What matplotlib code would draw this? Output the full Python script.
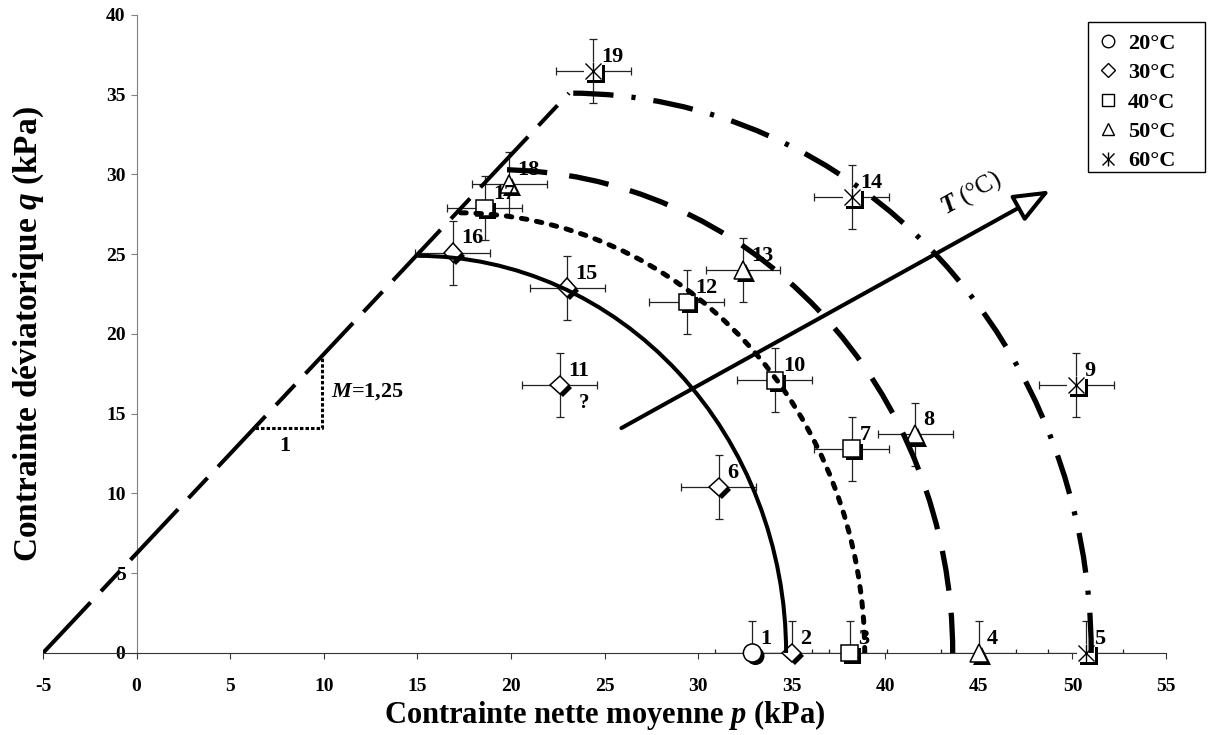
import matplotlib.pyplot as plt
import matplotlib.patheffects as pe
from matplotlib.patches import Arc, FancyArrowPatch, Rectangle
from matplotlib.lines import Line2D

plt.rcParams['font.family'] = 'Liberation Serif'
plt.rcParams['font.weight'] = 'bold'
plt.rcParams['axes.labelweight'] = 'bold'
plt.rcParams['axes.unicode_minus'] = False
plt.rcParams['mathtext.fontset'] = 'custom'
plt.rcParams['mathtext.rm'] = 'Liberation Serif:bold'
plt.rcParams['mathtext.it'] = 'Liberation Serif:italic:bold'
plt.rcParams['mathtext.sf'] = 'Liberation Serif:italic'
plt.rcParams['lines.scale_dashes'] = False

## Essais par temperature : numero, p (kPa), q (kPa)
temps = ['20°C', '30°C', '40°C', '50°C', '60°C']

num_20 = [1]
p_20 = [32.9]
q_20 = [0.0]

num_30 = [2, 6, 11, 15, 16]
p_30 = [35.0, 31.1, 22.6, 23.0, 16.9]
q_30 = [0.0, 10.4, 16.8, 22.9, 25.1]

num_40 = [3, 7, 10, 12, 17]
p_40 = [38.1, 38.2, 34.1, 29.4, 18.6]
q_40 = [0.0, 12.8, 17.1, 22.0, 27.9]

num_50 = [4, 8, 13, 18]
p_50 = [45.0, 41.6, 32.4, 19.9]
q_50 = [0.0, 13.7, 24.0, 29.4]

num_60 = [5, 9, 14, 19]
p_60 = [50.7, 50.2, 38.2, 24.4]
q_60 = [0.0, 16.8, 28.6, 36.5]

err_p = 2.0
err_q = 2.0

## Ligne d'etat critique M = 1,25
csl_p = [-5.0, 23.1]
csl_q = [0.0, 35.1]
slope_p = [6.3, 9.9, 9.9]
slope_q = [14.1, 14.1, 18.6]

## Surfaces de charge (quart d'ellipse) : debut p, sommet q, fin p
curve_p0 = [15.0, 17.1, 19.3, 23.1]
curve_q0 = [24.9, 27.6, 30.3, 35.1]
curve_pend = [34.7, 38.9, 43.6, 51.0]

## Fleche T (°C)
arrow_start = (25.9, 14.1)
arrow_end = (48.8, 29.0)

fig = plt.figure(figsize=(12.08, 7.35), dpi=100)
ax = fig.add_axes([0.0356, 0.1116, 0.9297, 0.868])

shadow = [pe.SimplePatchShadow(offset=(2.2, -2.2), shadow_rgbFace='black', alpha=1.0), pe.Normal()]

groups = [(num_20, p_20, q_20, 'o', 13),
          (num_30, p_30, q_30, 'D', 9.5),
          (num_40, p_40, q_40, 's', 12),
          (num_50, p_50, q_50, '^', 13),
          (num_60, p_60, q_60, 's', 13)]

for i, (nums, ps, qs, mk, ms) in enumerate(groups):
    ax.errorbar(ps, qs, xerr=err_p, yerr=err_q, fmt='none', ecolor='#222222',
                elinewidth=0.9, capsize=3, capthick=0.9, zorder=2)
    if i == 4:
        # asterisque = x + | sur un carre blanc avec ombre
        ax.plot(ps, qs, ls='none', marker=mk, ms=ms, mfc='white', mec='none',
                path_effects=shadow, zorder=3, clip_on=False)
        ax.plot(ps, qs, ls='none', marker='x', ms=11, mec='black', mew=1.0,
                zorder=3.5, clip_on=False)
        ax.plot(ps, qs, ls='none', marker='|', ms=13, mec='black', mew=1.0,
                zorder=3.5, clip_on=False)
    else:
        ax.plot(ps, qs, ls='none', marker=mk, ms=ms, mfc='white', mec='black', mew=1.1,
                path_effects=shadow, zorder=3, clip_on=False)
    for n, x, y in zip(nums, ps, qs):
        ax.annotate(str(n), (x, y), xytext=(6, 3), textcoords='offset points',
                    ha='left', va='bottom', fontsize=16, zorder=4)

ax.text(23.9, 15.7, '?', fontsize=15, ha='center', va='center')

## Courbes
ax.plot(csl_p, csl_q, color='black', lw=2.9, dashes=(50, 11, 20, 11), zorder=5)
ax.plot(slope_p, slope_q, color='black', lw=2.2, dashes=(2.5, 1.5), zorder=5)
ax.text(7.9, 13.0, '1', fontsize=16, ha='center', va='center')
ax.text(10.4, 16.4, '$M$=1,25', fontsize=16, ha='left', va='center')

styles = [dict(ls='-', lw=2.9),
          dict(ls=(0, (4, 7)), lw=3.6, capstyle='round'),
          dict(ls=(0, (29, 16)), lw=3.8),
          dict(ls=(0, (29, 13, 3, 13)), lw=3.8)]
for p0, q0, pe_, st in zip(curve_p0, curve_q0, curve_pend, styles):
    arc = Arc((p0, 0), 2 * (pe_ - p0), 2 * q0, theta1=0, theta2=90,
              color='black', zorder=5, **st)
    ax.add_patch(arc)

arrow = FancyArrowPatch(arrow_start, arrow_end, arrowstyle='-|>,head_length=1.1,head_width=0.45',
                        mutation_scale=20, lw=2.9, ec='black', fc='white',
                        shrinkA=0, shrinkB=0, zorder=6)
ax.add_patch(arrow)
ax.text(44.6, 28.8, r'$\mathsf{T}$ (°C)', fontsize=18, fontweight='normal', rotation=29,
        rotation_mode='anchor', ha='center', va='center')

## Axes
ax.set_xlim(-5, 55)
ax.set_ylim(0, 40)
ax.set_xticks(range(-5, 56, 5))
ax.set_yticks(range(0, 41, 5))
ax.spines['left'].set_position(('data', 0))
ax.spines['left'].set_color('#808080')
ax.spines['bottom'].set_color('#333333')
ax.spines['top'].set_visible(False)
ax.spines['right'].set_visible(False)
ax.tick_params(axis='x', direction='out', length=4, color='#333333', labelsize=14, pad=14)
ax.tick_params(axis='y', direction='out', length=4, color='#808080', labelsize=14, pad=4)
ax.set_xlabel('Contrainte nette moyenne $p$ (kPa)', fontsize=22, labelpad=2)
ax.set_ylabel('Contrainte déviatorique $q$ (kPa)', fontsize=24)
ax.yaxis.set_label_coords(0.003, 0.5)

## Legende
box = Rectangle((1088 / 1208, 1 - 172 / 735), 117 / 1208, 150 / 735, transform=fig.transFigure,
                facecolor='white', edgecolor='black', lw=1.0, zorder=1)
fig.add_artist(box)
handles = [Line2D([], [], ls='none', marker=m, ms=s, mfc='white', mec='black', mew=1)
           for m, s in [('o', 9), ('D', 7), ('s', 9), ('^', 9)]]
handles.append((Line2D([], [], ls='none', marker='x', ms=8, mec='black', mew=1),
                Line2D([], [], ls='none', marker='|', ms=10, mec='black', mew=1)))
leg = fig.legend(handles, temps, loc='upper left', bbox_to_anchor=(1088 / 1208, 1 - 22 / 735),
                 fontsize=16, frameon=False, handlelength=0.8, handletextpad=0.5,
                 labelspacing=0.4, borderpad=0.5, borderaxespad=0)

plt.savefig('out.png', dpi=100)
